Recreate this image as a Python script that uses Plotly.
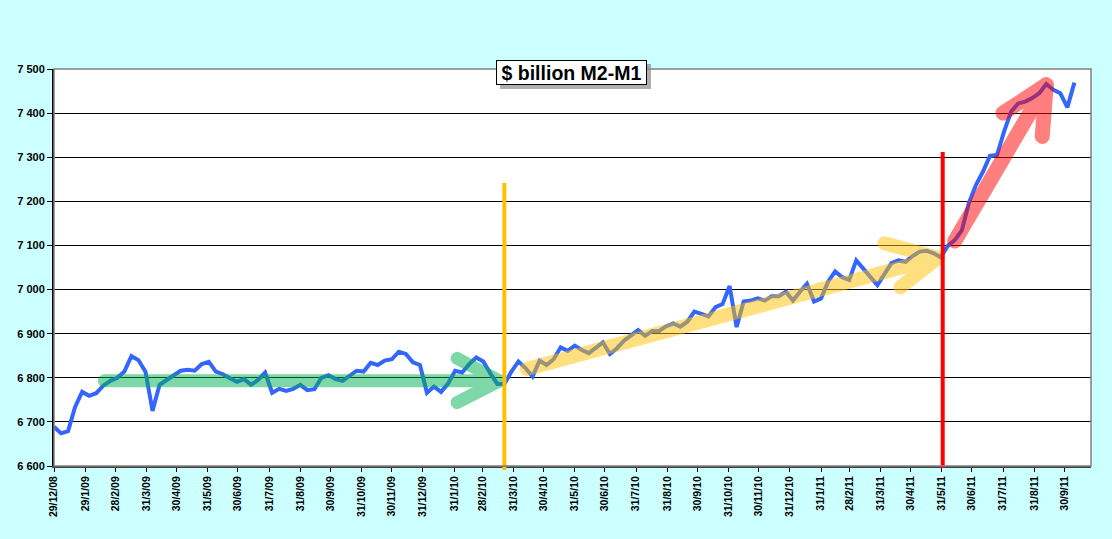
import pandas as pd
import plotly.graph_objects as go

# weekly M2-M1, $ billion
semanas = pd.date_range('2008-12-29', periods=146, freq='7D')
m2_m1 = [
    6689, 6674, 6679, 6734, 6768, 6759, 6765, 6782, 6793, 6800,
    6814, 6849, 6840, 6814, 6725, 6784, 6795, 6806, 6816, 6818,
    6816, 6831, 6836, 6814, 6808, 6799, 6791, 6797, 6784, 6795,
    6812, 6766, 6775, 6770, 6775, 6784, 6772, 6774, 6800, 6806,
    6797, 6793, 6804, 6816, 6814, 6834, 6829, 6839, 6842, 6859,
    6854, 6835, 6829, 6766, 6780, 6768, 6787, 6816, 6812, 6831,
    6846, 6837, 6810, 6786, 6786, 6814, 6837, 6822, 6803, 6839,
    6829, 6842, 6869, 6861, 6873, 6863, 6856, 6869, 6880, 6854,
    6867, 6884, 6895, 6908, 6895, 6906, 6906, 6917, 6923, 6916,
    6927, 6950, 6945, 6939, 6960, 6967, 7008, 6915, 6973, 6975,
    6980, 6975, 6985, 6985, 6995, 6975, 6995, 7013, 6973, 6980,
    7018, 7041, 7028, 7022, 7066, 7048, 7029, 7010, 7035, 7060,
    7066, 7063, 7076, 7086, 7088, 7082, 7073, 7099, 7112, 7134,
    7196, 7237, 7267, 7303, 7305, 7358, 7403, 7422, 7426, 7434,
    7445, 7466, 7453, 7445, 7413, 7469,
]

tick_datas = ['2008-12-29', '2009-01-29', '2009-02-28', '2009-03-31', '2009-04-30',
              '2009-05-31', '2009-06-30', '2009-07-31', '2009-08-31', '2009-09-30',
              '2009-10-31', '2009-11-30', '2009-12-31', '2010-01-31', '2010-02-28',
              '2010-03-31', '2010-04-30', '2010-05-31', '2010-06-30', '2010-07-31',
              '2010-08-31', '2010-09-30', '2010-10-31', '2010-11-30', '2010-12-31',
              '2011-01-31', '2011-02-28', '2011-03-31', '2011-04-30', '2011-05-31',
              '2011-06-30', '2011-07-31', '2011-08-31', '2011-09-30']
tick_textos = ['29/12/08', '29/1/09', '28/2/09', '31/3/09', '30/4/09', '31/5/09',
               '30/6/09', '31/7/09', '31/8/09', '30/9/09', '31/10/09', '30/11/09',
               '31/12/09', '31/1/10', '28/2/10', '31/3/10', '30/4/10', '31/5/10',
               '30/6/10', '31/7/10', '31/8/10', '30/9/10', '31/10/10', '30/11/10',
               '31/12/10', '31/1/11', '28/2/11', '31/3/11', '30/4/11', '31/5/11',
               '30/6/11', '31/7/11', '31/8/11', '30/9/11']

# arrows: shaft, gap, barb-tip-barb
seta_verde_x = ['2009-02-17', '2010-03-17', None, '2010-02-03', '2010-03-17', '2010-02-03']
seta_verde_y = [6793, 6793, None, 6844, 6793, 6744]
seta_amarela_x = ['2010-04-13', '2011-05-27', None, '2011-04-04', '2011-05-27', '2011-04-20']
seta_amarela_y = [6820, 7072, None, 7105, 7072, 7005]
seta_vermelha_x = ['2011-06-13', '2011-09-12', None, '2011-07-31', '2011-09-12', '2011-09-08']
seta_vermelha_y = [7110, 7464, None, 7400, 7464, 7347]

linha_laranja = '2010-03-22'
linha_vermelha = '2011-06-01'

fonte = 'Liberation Sans, Arial, sans-serif'

fig = go.Figure()

fig.add_trace(go.Scatter(
    x=semanas, y=m2_m1, mode='lines',
    line=dict(color='#3366FF', width=4),
    hoverinfo='x+y'
))

for sx, sy, cor, w in [(seta_verde_x, seta_verde_y, '#00B050', 13),
                       (seta_amarela_x, seta_amarela_y, '#FFC000', 14),
                       (seta_vermelha_x, seta_vermelha_y, '#FF0000', 15)]:
    fig.add_trace(go.Scatter(
        x=sx, y=sy, mode='lines', opacity=0.5,
        line=dict(color=cor, width=w), hoverinfo='skip'
    ))

fig.add_shape(type='line', xref='x', yref='paper', x0=linha_laranja, x1=linha_laranja,
              y0=-0.01, y1=0.713, line=dict(color='#FFC000', width=4), layer='above')
fig.add_shape(type='line', xref='x', yref='paper', x0=linha_vermelha, x1=linha_vermelha,
              y0=-0.005, y1=0.791, line=dict(color='#FF0000', width=4), layer='above')

# plot border (top/right grey)
fig.add_shape(type='rect', xref='paper', yref='paper', x0=0, x1=1, y0=0, y1=1,
              line=dict(color='#808080', width=1.5), layer='above')

# title box shadow
fig.add_shape(type='rect', xref='paper', yref='paper', x0=0.4301, x1=0.5757,
              y0=0.9496, y1=1.0126, fillcolor='#8c8c8c', opacity=0.7,
              line=dict(width=0), layer='above')

fig.add_annotation(
    text='<b>$ billion M2-M1</b>', xref='paper', yref='paper',
    x=0.499, y=0.9912, xanchor='center', yanchor='middle', showarrow=False,
    font=dict(family=fonte, size=19.5, color='black'),
    bgcolor='white', bordercolor='black', borderwidth=1, borderpad=0,
    width=149, height=23
)

fig.update_layout(
    width=1112, height=539,
    margin=dict(l=54, r=21, t=69, b=73),
    paper_bgcolor='#CCFFFF',
    plot_bgcolor='white',
    showlegend=False,
    separators='. ',
    font=dict(family=fonte, color='black'),
    xaxis=dict(
        type='date', range=['2008-12-29', '2011-10-26 12:00'],
        tickvals=tick_datas, ticktext=tick_textos, tickangle=-90,
        tickfont=dict(family=fonte, size=10.5, color='black', weight='bold'),
        ticks='outside', ticklen=4, tickcolor='black',
        showgrid=False, showline=True, linecolor='#404040', linewidth=2,
        zeroline=False
    ),
    yaxis=dict(
        range=[6600, 7500], tick0=6600, dtick=100, tickformat=',d',
        tickfont=dict(family=fonte, size=11, color='black', weight='bold'),
        ticks='outside', ticklen=5, tickcolor='black',
        showgrid=True, gridcolor='black', gridwidth=1,
        showline=True, linecolor='black', linewidth=2, zeroline=False
    ),
)

# no page margin; rounded ends on the arrow strokes
js = """
document.body.style.margin = '0';
var gd = document.getElementById('{plot_id}');
gd.querySelectorAll('.scatterlayer .trace').forEach(function (t, i) {
  if (i > 0) {
    t.querySelectorAll('path.js-line').forEach(function (p) {
      p.style.strokeLinecap = 'round';
      p.style.strokeLinejoin = 'round';
    });
  }
});
"""

fig.write_html("out.html", post_script=js, config={'displayModeBar': False})
